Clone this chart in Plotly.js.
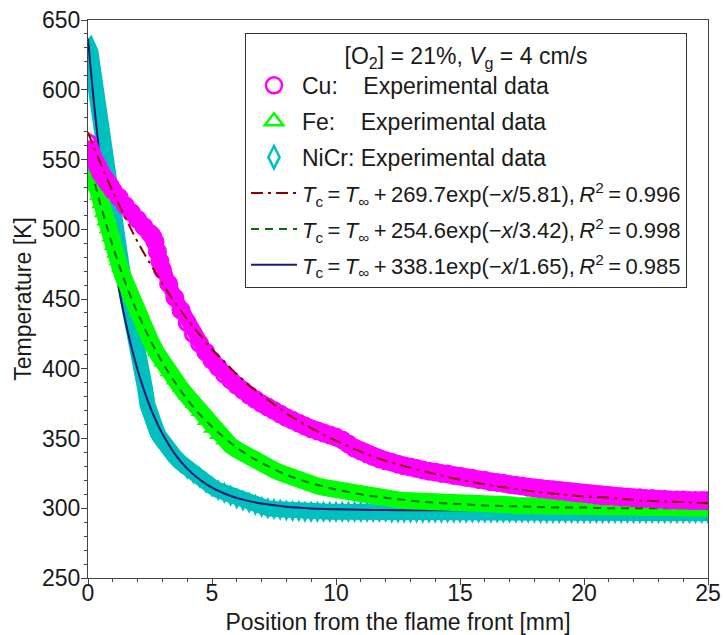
<!DOCTYPE html>
<html>
<head>
<meta charset="utf-8">
<script src="https://cdn.plot.ly/plotly-3.0.1.min.js"></script>
<style>html,body{margin:0;padding:0;background:#fff;}</style>
</head>
<body>
<div id="chart" style="width:723px;height:635px;"></div>
<script>
const cuX = [0,0.1,0.2,0.3,0.4,0.5,0.6,0.7,0.8,0.9,1.0,1.25,1.5,1.75,2.0,2.25,2.5,2.6,2.7,2.8,2.9,3.0,3.25,3.5,3.75,4.0,4.25,4.5,4.75,5.0,5.25,5.5,5.75,6.0,6.25,6.5,6.75,7.0,7.25,7.5,7.75,8.0,8.25,8.5,8.75,9.0,9.25,9.5,9.75,10.0,10.25,10.5,10.75,11.0,11.25,11.5,11.75,12.0,12.25,12.5,12.75,13.0,13.25,13.5,13.75,14.0,14.25,14.5,14.75,15.0,15.25,15.5,15.75,16.0,16.25,16.5,16.75,17.0,17.25,17.5,17.75,18.0,18.25,18.5,18.75,19.0,19.25,19.5,19.75,20.0,20.25,20.5,20.75,21.0,21.25,21.5,21.75,22.0,22.25,22.5,22.75,23.0,23.25,23.5,23.75,24.0,24.25,24.5,24.75,25.0];
const cuT = [562,557,552,548,545,541,538,536,533,531,528,523,517,512,507,502,497,495,491,484,477,471,461,451,442,433,425,418,412,406,401,396,392,388,384.5,381,378,375,372.5,370,367.5,365,363,361,359,357,355.5,354,352.5,351,349,346,343,341,339,337,335.5,334,333,331.5,330.5,329.5,328.5,327.5,326.5,326,325,324.5,323.5,323,322,321.5,320.5,320,319,318.5,318,317,316.5,316,315,314.5,314,313.5,313,312.5,312,311.5,311,310.5,310,309.5,309,309,308.5,308,308,307.5,307.5,307,307,306.5,306.5,306,306,306,305.5,305.5,305.5,305.5];

const feX = [0,0.1,0.2,0.3,0.4,0.5,0.6,0.7,0.8,0.9,1.0,1.1,1.2,1.3,1.4,1.5,1.75,2.0,2.25,2.5,2.75,3.0,3.25,3.5,3.75,4.0,4.25,4.5,4.75,5.0,5.25,5.5,5.75,6.0,6.25,6.5,6.75,7.0,7.25,7.5,7.75,8.0,8.25,8.5,8.75,9.0,9.25,9.5,9.75,10.0,10.25,10.5,10.75,11.0,11.25,11.5,11.75,12.0,12.25,12.5,12.75,13.0,13.25,13.5,13.75,14.0,14.25,14.5,14.75,15.0,15.25,15.5,15.75,16.0,16.25,16.5,16.75,17.0,17.25,17.5,17.75,18.0,18.25,18.5,18.75,19.0,19.25,19.5,19.75,20.0,20.25,20.5,20.75,21.0,21.25,21.5,21.75,22.0,22.25,22.5,22.75,23.0,23.25,23.5,23.75,24.0,24.25,24.5,24.75,25.0];
const feT = [552,545,538,530.5,524,518,511.5,505.5,500,494,488,482.5,477,472,467,462,450.5,440,430,421,412,404.5,397.5,391.5,386,380.5,375,369,362.5,357,352.5,348.5,345,342,339,336.5,334,331.5,329.5,327.5,325.5,323.5,322,320.5,319,317.5,316,315,314,313,312,311,310,309,308.5,308,307.5,307,306.5,306,305.5,305.5,305,305,304.5,304.5,304,304,303.5,303.5,303.5,303,303,303,302.5,302.5,302.5,302.5,302,302,302,302,302,301.5,301.5,301.5,301.5,301.5,301.5,301.5,301,301,301,301,301,301,301,300.5,300.5,300.5,300.5,300.5,300.5,300.5,300,300,300,300,300,300];

const nicrX = [0,0.05,0.1,0.15,0.2,0.25,0.3,0.35,0.4,0.45,0.5,0.6,0.7,0.8,0.9,1.0,1.1,1.2,1.3,1.4,1.5,1.6,1.7,1.8,1.9,2.0,2.1,2.2,2.3,2.4,2.5,2.6,2.7,2.8,2.9,3.0,3.25,3.5,3.75,4.0,4.25,4.5,4.75,5.0,5.25,5.5,5.75,6.0,6.25,6.5,6.75,7.0,7.25,7.5,7.75,8.0,8.25,8.5,8.75,9.0,9.25,9.5,9.75,10.0,10.25,10.5,10.75,11.0,11.25,11.5,11.75,12.0,12.25,12.5,12.75,13.0,13.25,13.5,13.75,14.0,14.25,14.5,14.75,15.0,15.25,15.5,15.75,16.0,16.25,16.5,16.75,17.0,17.25,17.5,17.75,18.0,18.25,18.5,18.75,19.0,19.25,19.5,19.75,20.0,20.25,20.5,20.75,21.0,21.25,21.5,21.75,22.0,22.25,22.5,22.75,23.0,23.25,23.5,23.75,24.0,24.25,24.5,24.75,25.0];
const nicrT = [628,629,627,621,615,609,600,591,582,572,565,549,537,524,513,501,491,483,475,468,460,452,444,436,428,419,410,398,386,374,366,361,357,354,351,348,342,337,332.5,328.5,325,322,318.5,315.5,313,311,309,307,305.5,304,302.5,301,300,299.5,299,298.5,298,298,297.5,297.5,297.5,297.5,297.5,297.5,297.5,297.5,297.5,297.5,297.5,297.5,297.5,297.5,297,297,297,297,297,297,297,297,297,297,297,297,297,297,297,297,297,297,297,297,297,297,297,297,296.5,296.5,296.5,296.5,296.5,296.5,296.5,296.5,296.5,296.5,296.5,296.5,296.5,296.5,296.5,296.5,296.5,296.5,296.5,296.5,296.5,296.5,296.5,296.5,296.5,296.5,296.5,296.5];

// ---------- Fitted curves ----------
const cuFitX = [0,0.5,1,1.5,2,2.5,3,3.5,4,4.5,5,5.5,6,6.5,7,7.5,8,8.5,9,9.5,10,11,12,13,14,15,16,17,18,19,20,21,22,23,24,25];
const cuFitT = [569.5,547.5,527,508.5,491,475.5,461,447.5,435.5,424.5,414,405,396,388,381,374.5,368,362.5,357.5,352.5,348.5,340.5,334,329,324.5,320.5,317,314.5,312,310,308.5,307.5,306,305,304.5,303.5];

const feFitX = [0,0.25,0.5,0.75,1,1.25,1.5,1.75,2,2.5,3,3.5,4,4.5,5,5.5,6,6.5,7,8,9,10,11,12,13,14,15,16,17,18,19,20,21,22,23,24,25];
const feFitT = [552,535,518,502.5,488,474.5,462,450.5,440,421,404.5,390.5,378,367.5,358.5,350.5,343.5,337.5,332.5,324,318,313.5,310,307.5,305.5,304,303,302,301.5,301,300.5,300.5,300,300,300,300,299.5];

const nicrFitX = [0,0.1,0.2,0.3,0.4,0.5,0.6,0.7,0.8,0.9,1.0,1.2,1.4,1.6,1.8,2.0,2.25,2.5,2.75,3.0,3.5,4.0,4.5,5.0,5.5,6.0,6.5,7.0,8.0,9.0,10,11,12,13,14,15,16,17,18,19,20,21,22,23,24,25];
const nicrFitT = [636.5,616.7,598,580.4,563.8,548.2,533.5,519.7,506.7,494.5,482.9,461.9,443.2,426.7,412.1,399.1,385,372.8,362.4,353.4,339,328.4,320.6,314.8,310.6,307.4,305.1,303.4,301.1,299.9,299.3,298.9,298.7,298.5,298.5,298.5,298.5,298.5,298.5,298.5,298.5,298.5,298.5,298.5,298.5,298.5];

// ---------- Labels ----------
const legendTitle = '[O<sub>2</sub>] = 21%, <i>V</i><sub>g</sub> = 4 cm/s';
const seriesNames = [
  'Cu:\u00a0\u00a0\u00a0\u00a0Experimental data',
  'Fe:\u00a0\u00a0\u00a0\u00a0Experimental data',
  'NiCr: Experimental data'
];
const fitCoef = ['269.7', '254.6', '338.1'];
const fitTau = ['5.81', '3.42', '1.65'];
const fitR2 = ['0.996', '0.998', '0.985'];
const xTitle = 'Position from the flame front [mm]';
const yTitle = 'Temperature [K]';

function fitLabel(i) {
  const s = '\u2009';
  return '<span style="font-size:22px"><i>T</i><sub>c</sub>' + s + '=' + s + '<i>T</i><sub>\u221e</sub>' + s + '+' + s +
    fitCoef[i] + 'exp(\u2212<i>x</i>/' + fitTau[i] + '),' + s + '<i>R</i><sup>2</sup>' + s + '=' + s + fitR2[i] + '</span>';
}

// ---------- Styles ----------
const cMag = '#ff00ff', cGreen = '#00ff00', cCyan = '#00bfbf';
const cCuFit = '#8b0000', cFeFit = '#0b6b0b', cNiFit = '#191970';

const traces = [
  // drawn bottom to top: NiCr, its fit, Fe, its fit, Cu, its fit
  {x: nicrX, y: nicrT, type:'scatter', mode:'lines+markers', showlegend:false, hoverinfo:'skip',
   line:{color:cCyan, width:16},
   marker:{symbol:'diamond-tall', size:16, color:cCyan, line:{width:0}}},
  {x: nicrFitX, y: nicrFitT, type:'scatter', mode:'lines', showlegend:false,
   line:{color:cNiFit, width:2, shape:'spline'}},
  {x: feX, y: feT, type:'scatter', mode:'lines+markers', showlegend:false, hoverinfo:'skip',
   line:{color:cGreen, width:17},
   marker:{symbol:'triangle-up', size:16, color:cGreen, line:{width:0}}},
  {x: feFitX, y: feFitT, type:'scatter', mode:'lines', showlegend:false,
   line:{color:cFeFit, width:2, dash:'8px,6px', shape:'spline'}},
  {x: cuX, y: cuT, type:'scatter', mode:'lines+markers', showlegend:false, hoverinfo:'skip',
   line:{color:cMag, width:15},
   marker:{symbol:'circle-open', size:16, color:cMag, line:{width:3, color:cMag}}},
  {x: cuFitX, y: cuFitT, type:'scatter', mode:'lines', showlegend:false,
   line:{color:cCuFit, width:2, dash:'12px,5px,3px,5px', shape:'spline'}},
  // legend entries
  {x:[null], y:[null], type:'scatter', mode:'markers', name:seriesNames[0], legendgroup:'g1',
   marker:{symbol:'circle-open', size:16, color:cMag, line:{width:2.5, color:cMag}}},
  {x:[null], y:[null], type:'scatter', mode:'markers', name:seriesNames[1], legendgroup:'g2',
   marker:{symbol:'triangle-up-open', size:16, color:cGreen, line:{width:2.5, color:cGreen}}},
  {x:[null], y:[null], type:'scatter', mode:'markers', name:seriesNames[2], legendgroup:'g3',
   marker:{symbol:'diamond-tall-open', size:16, color:cCyan, line:{width:2.5, color:cCyan}}},
  {x:[null], y:[null], type:'scatter', mode:'lines', name:fitLabel(0), legendgroup:'g4',
   line:{color:cCuFit, width:2, dash:'12px,5px,3px,5px'}},
  {x:[null], y:[null], type:'scatter', mode:'lines', name:fitLabel(1), legendgroup:'g5',
   line:{color:cFeFit, width:2, dash:'8px,6px'}},
  {x:[null], y:[null], type:'scatter', mode:'lines', name:fitLabel(2), legendgroup:'g6',
   line:{color:cNiFit, width:2}}
];

const axisCommon = {
  ticks:'outside', ticklen:6, tickwidth:1, tickcolor:'#444',
  showline:true, linecolor:'#444', linewidth:1, mirror:true,
  showgrid:false, zeroline:false,
  tickfont:{size:23, color:'#1a1a1a'}
};

const layout = {
  width:723, height:635,
  margin:{l:88, r:15, t:20, b:57},
  paper_bgcolor:'#ffffff', plot_bgcolor:'#ffffff',
  font:{family:'"Liberation Sans", Arial, sans-serif', size:23, color:'#1a1a1a'},
  showlegend:true,
  xaxis: Object.assign({}, axisCommon, {
    range:[0,25], tick0:0, dtick:5, ticklabelstandoff:-12,
    minor:{dtick:1, ticks:'outside', ticklen:3, tickcolor:'#444', showgrid:false},
    title:{text:xTitle, font:{size:23}, standoff:12}
  }),
  yaxis: Object.assign({}, axisCommon, {
    range:[250,650], tick0:250, dtick:50, ticklabelstandoff:-4,
    minor:{dtick:10, ticks:'outside', ticklen:3, tickcolor:'#444', showgrid:false},
    title:{text:yTitle, font:{size:23}, standoff:3}
  }),
  legend:{
    x:0.2532, y:0.9767, xanchor:'left', yanchor:'top',
    bgcolor:'#ffffff', bordercolor:'#333', borderwidth:1,
    font:{size:23, color:'#1a1a1a'},
    title:{text:legendTitle, side:'top center', font:{size:23}},
    traceorder:'grouped', tracegroupgap:3, itemwidth:46
  }
};

Plotly.newPlot('chart', traces, layout, {displayModeBar:false, staticPlot:true});
</script>
</body>
</html>
